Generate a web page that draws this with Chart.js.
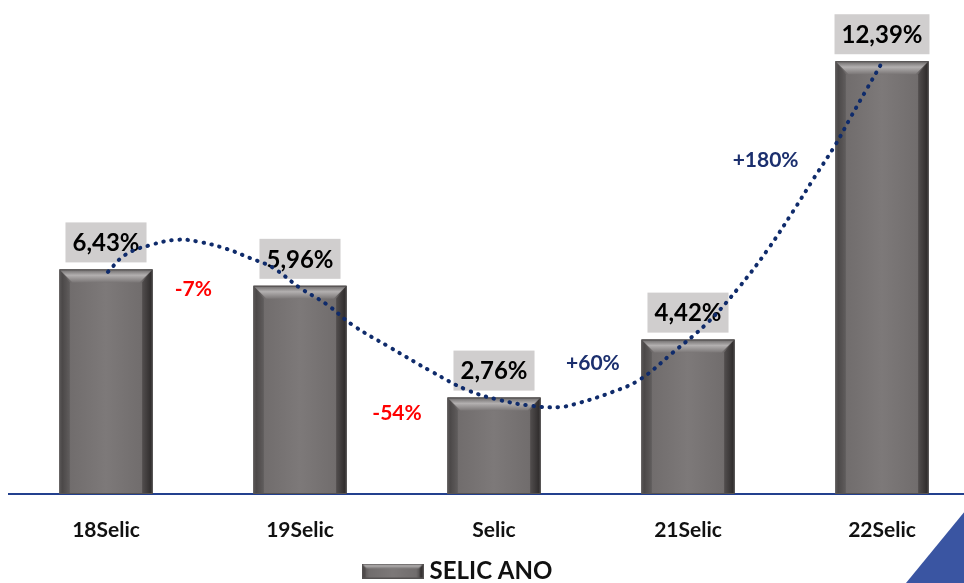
<!DOCTYPE html>
<html>
<head>
<meta charset="utf-8">
<script src="https://cdn.jsdelivr.net/npm/chart.js@4.4.0/dist/chart.umd.min.js"></script>
<style>
  html, body { margin: 0; padding: 0; background: #fff; overflow: hidden; }
  #wrap { width: 964px; height: 583px; overflow: hidden; }
</style>
</head>
<body>
<div id="wrap"><canvas id="selic" width="979" height="593"></canvas></div>
<script>
const categories = ["18Selic", "19Selic", "Selic", "21Selic", "22Selic"];
const selicValues = [6.43, 5.96, 2.76, 4.42, 12.39];
const valueLabels = ["6,43%", "5,96%", "2,76%", "4,42%", "12,39%"];

// dotted trend line (x = category index)
const trendX = [0.01, 0.10, 0.23, 0.37, 0.48, 0.62, 0.74, 0.86, 1.00, 1.14, 1.27, 1.46, 1.68, 1.86, 2.03, 2.20, 2.34, 2.44, 2.61, 2.75, 2.92, 3.10, 3.26, 3.41, 3.54, 3.65, 3.76, 3.84, 3.92, 4.00];
const trendY = [6.36, 6.85, 7.13, 7.28, 7.22, 7.02, 6.76, 6.48, 5.90, 5.42, 4.84, 4.21, 3.50, 2.98, 2.69, 2.52, 2.49, 2.61, 2.92, 3.27, 4.04, 4.90, 5.90, 6.99, 8.08, 9.05, 10.00, 10.80, 11.58, 12.35];

const changeLabels = ["-7%", "-54%", "+60%", "+180%"];

const FONT = "Lato, 'Open Sans', sans-serif";

function paintBevel(ctx, l, t, r, btm, b) {
  const w = r - l;
  let g = ctx.createLinearGradient(l, 0, r, 0);
  g.addColorStop(0, "#6a6666");
  g.addColorStop(0.03, "#555151");
  g.addColorStop(0.12, "#716d6d");
  g.addColorStop(0.5, "#7d7979");
  g.addColorStop(0.88, "#716d6d");
  g.addColorStop(1, "#363333");
  ctx.fillStyle = g;
  ctx.fillRect(l, t, w, btm - t);

  // top bevel
  g = ctx.createLinearGradient(0, t, 0, t + b);
  g.addColorStop(0, "#6a6767");
  g.addColorStop(0.45, "#b3b0b0");
  g.addColorStop(1, "#7a7676");
  ctx.fillStyle = g;
  ctx.beginPath();
  ctx.moveTo(l, t);
  ctx.lineTo(r, t);
  ctx.lineTo(r - b, t + b);
  ctx.lineTo(l + b, t + b);
  ctx.closePath();
  ctx.fill();

  // side bevels
  ctx.fillStyle = "rgba(35,32,32,0.18)";
  ctx.beginPath();
  ctx.moveTo(l, t);
  ctx.lineTo(l + b * 0.8, t + b);
  ctx.lineTo(l + b * 0.8, btm);
  ctx.lineTo(l, btm);
  ctx.closePath();
  ctx.fill();
  ctx.fillStyle = "rgba(20,18,18,0.3)";
  ctx.beginPath();
  ctx.moveTo(r, t);
  ctx.lineTo(r - b * 0.8, t + b);
  ctx.lineTo(r - b * 0.8, btm);
  ctx.lineTo(r, btm);
  ctx.closePath();
  ctx.fill();

  ctx.strokeStyle = "#555252";
  ctx.lineWidth = 1;
  ctx.strokeRect(l + 0.5, t + 0.5, w - 1, btm - t - 1);
}

// legend swatch
const swatch = document.createElement("canvas");
swatch.width = 62;
swatch.height = 15;
paintBevel(swatch.getContext("2d"), 0, 0, 62, 15, 5);

const barDecor = {
  id: "barDecor",
  afterDatasetDraw(chart, args) {
    if (args.meta.type !== "bar") return;
    const ctx = chart.ctx;
    ctx.save();
    args.meta.data.forEach((bar, i) => {
      const half = bar.width / 2;
      paintBevel(ctx, bar.x - half, bar.y, bar.x + half, bar.base, 13);
      // value label box
      ctx.font = "bold 24px " + FONT;
      const tw = ctx.measureText(valueLabels[i]).width;
      const bw = tw + 14, bh = 40;
      const by = bar.y - 7 - bh;
      ctx.fillStyle = "#d0cece";
      ctx.fillRect(bar.x - bw / 2, by, bw, bh);
      ctx.fillStyle = "#000";
      ctx.textAlign = "center";
      ctx.textBaseline = "middle";
      ctx.fillText(valueLabels[i], bar.x, by + bh / 2 + 1);
    });
    ctx.restore();
  }
};

const changeNotes = {
  id: "changeNotes",
  afterLayout(chart) {
    // legend sits left of the page centre in the original
    chart.legend.right -= 68;
  },
  afterDraw(chart, args, opts) {
    const ctx = chart.ctx;
    const xs = chart.scales.xl, ys = chart.scales.y;
    ctx.save();
    ctx.font = "bold 21px " + FONT;
    ctx.textAlign = "center";
    ctx.textBaseline = "middle";
    opts.at.forEach((p, i) => {
      ctx.fillStyle = opts.colors[i];
      ctx.fillText(changeLabels[i], xs.getPixelForValue(p[0]), ys.getPixelForValue(p[1]));
    });
    // corner triangle
    ctx.fillStyle = "#3a55a2";
    ctx.beginPath();
    ctx.moveTo(906, 583);
    ctx.lineTo(979, 494);
    ctx.lineTo(979, 593);
    ctx.lineTo(906, 593);
    ctx.closePath();
    ctx.fill();
    ctx.restore();
  }
};

const ctx = document.getElementById("selic").getContext("2d");
let selicChart = new Chart(ctx, {
  type: "bar",
  data: {
    labels: categories,
    datasets: [
      {
        label: "SELIC ANO",
        data: selicValues,
        backgroundColor: "#767272",
        borderWidth: 0,
        grouped: false,
        categoryPercentage: 1,
        barPercentage: 0.48,
        order: 2,
      },
      {
        type: "line",
        label: "trend",
        data: trendX.map((x, i) => ({ x: x, y: trendY[i] })),
        xAxisID: "xl",
        borderColor: "#0f2b6b",
        borderWidth: 4,
        borderDash: [0.5, 7.6],
        borderCapStyle: "round",
        pointRadius: 0,
        tension: 0.4,
        fill: false,
        order: 1,
      },
    ],
  },
  options: {
    responsive: false,
    animation: false,
    layout: { padding: { top: 5, left: 9, right: 0, bottom: 0 } },
    plugins: {
      legend: {
        display: true,
        position: "bottom",
        labels: {
          usePointStyle: true,
          pointStyleWidth: 50,
          boxHeight: 15,
          padding: 0,
          color: "#111",
          font: { family: FONT, size: 24, weight: "bold" },
          generateLabels: () => [{
            text: "SELIC ANO",
            pointStyle: swatch,
            fillStyle: "#767272",
            strokeStyle: "#767272",
            lineWidth: 0,
            fontColor: "#111",
            datasetIndex: 0,
            hidden: false,
          }],
        },
      },
      tooltip: { enabled: false },
      changeNotes: {
        at: [[0.45, 5.87], [1.50, 2.32], [2.51, 3.75], [3.40, 9.56]],
        colors: ["#ff0000", "#ff0000", "#1b2f6e", "#1b2f6e"],
      },
    },
    scales: {
      x: {
        grid: { display: false, drawTicks: false },
        border: { display: true, color: "#23408e", width: 2 },
        ticks: {
          padding: 24,
          color: "#111",
          font: { family: FONT, size: 21, weight: "bold" },
        },
        afterFit: (axis) => { axis.height = 65; },
      },
      xl: {
        type: "linear",
        display: false,
        offset: false,
        grid: { offset: false },
        min: -0.5,
        max: 4.5,
      },
      y: {
        display: false,
        min: 0,
        max: 14,
      },
    },
  },
  plugins: [barDecor, changeNotes],
});
</script>
</body>
</html>
